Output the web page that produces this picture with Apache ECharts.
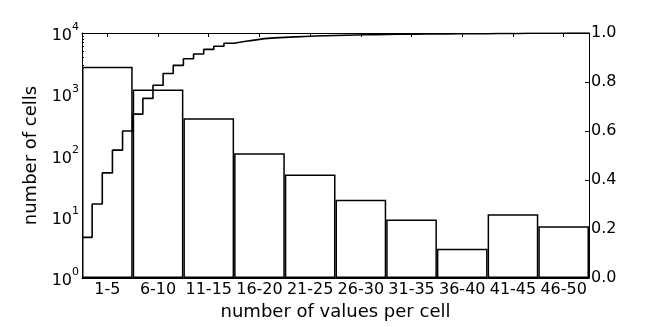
<!DOCTYPE html>
<html>
<head>
<meta charset="utf-8">
<script src="https://cdn.jsdelivr.net/npm/echarts@6/dist/echarts.min.js"></script>
<style>
html,body{margin:0;padding:0;background:#fff;}
#chart{width:654px;height:327px;}
</style>
</head>
<body>
<div id="chart"></div>
<script>
// ---- data ----
var categories = ['1-5','6-10','11-15','16-20','21-25','26-30','31-35','36-40','41-45','46-50'];
var cellCounts = [2800, 1200, 405, 109, 49, 19, 9, 3, 11, 7];
// cumulative fraction of cells, one per number of values (1..50)
var cumFraction = [
  0.166,0.302,0.429,0.522,0.600, 0.669,0.733,0.787,0.835,0.868,
  0.895,0.914,0.933,0.946,0.958, 0.965,0.971,0.977,0.980,0.982,
  0.984,0.986,0.988,0.989,0.990, 0.991,0.992,0.993,0.993,0.994,
  0.995,0.995,0.995,0.996,0.996, 0.996,0.997,0.997,0.997,0.997,
  0.998,0.998,0.998,0.999,0.999, 0.999,0.999,1.000,1.000,1.000
];
var rightTicks = [0.0,0.2,0.4,0.6,0.8,1.0];

// ---- build ----
var stepData = cumFraction.map(function(v,i){ return [i, v]; });
stepData.push([cumFraction.length, cumFraction[cumFraction.length-1]]);

var minorLog = [];
for (var n = 0; n < 4; n++) {
  for (var k = 2; k <= 9; k++) minorLog.push(Math.log10(k * Math.pow(10, n)));
}

var FONT = 'DejaVu Sans';
var chart = echarts.init(document.getElementById('chart'), null, {renderer:'canvas'});
var axisLineStyle = {color:'#000', width:1};

chart.setOption({
  animation: false,
  backgroundColor: '#fff',
  textStyle: {fontFamily: FONT, color: '#000'},
  grid: {left: 82, right: 65, top: 33, bottom: 49, containLabel: false, outerBoundsMode: 'none'},
  xAxis: [
    {
      type: 'category', data: categories, position: 'bottom', boundaryGap: true,
      axisLine: {show: true, lineStyle: axisLineStyle},
      axisTick: {show: true, inside: true, alignWithLabel: true, length: 4, lineStyle: {color:'#000'}},
      axisLabel: {fontFamily: FONT, fontSize: 16, color: '#000', margin: 4, interval: 0},
      splitLine: {show: false},
      name: 'number of values per cell', nameLocation: 'middle', nameGap: 21,
      nameTextStyle: {fontFamily: FONT, fontSize: 18, color: '#000', verticalAlign: 'top'}
    },
    {
      type: 'category', data: categories, position: 'top', boundaryGap: true,
      axisLine: {show: true, onZero: false, lineStyle: axisLineStyle},
      axisTick: {show: true, inside: true, alignWithLabel: true, length: 4, lineStyle: {color:'#000'}},
      axisLabel: {show: false}, splitLine: {show: false}
    },
    {
      type: 'value', min: 0, max: cumFraction.length, show: false
    }
  ],
  yAxis: [
    {
      type: 'log', logBase: 10, min: 1, max: 10000, position: 'left',
      axisLine: {show: true, onZero: false, lineStyle: axisLineStyle},
      axisTick: {show: true, inside: true, length: 4, lineStyle: {color:'#000'}},
      splitLine: {show: false},
      axisLabel: {
        margin: 3,
        formatter: function(v){ return '{b|10}{s|' + Math.round(Math.log10(v)) + '}'; },
        rich: {
          b: {fontFamily: FONT, fontSize: 16, color:'#000', lineHeight: 22, verticalAlign: 'bottom'},
          s: {fontFamily: FONT, fontSize: 11, color:'#000', lineHeight: 22, verticalAlign: 'top'}
        }
      },
      name: 'number of cells', nameLocation: 'middle', nameGap: 29, nameRotate: 90,
      nameTextStyle: {fontFamily: FONT, fontSize: 18, color: '#000'}
    },
    {
      type: 'value', min: 0, max: 1, interval: 0.2, position: 'right',
      axisLine: {show: true, onZero: false, lineStyle: axisLineStyle},
      axisTick: {show: true, inside: true, length: 4, lineStyle: {color:'#000'}},
      axisLabel: {fontFamily: FONT, fontSize: 16, color:'#000', margin: 2,
        customValues: rightTicks,
        formatter: function(v){ return v.toFixed(1); }},
      splitLine: {show: false}
    },
    {
      type: 'value', min: 0, max: 4, position: 'left', show: true,
      axisLine: {show: false},
      axisTick: {show: true, inside: true, length: 2, customValues: minorLog, lineStyle: {color:'#000'}},
      axisLabel: {show: false}, splitLine: {show: false}
    }
  ],
  series: [
    {
      type: 'bar', xAxisIndex: 0, yAxisIndex: 0, data: cellCounts,
      barCategoryGap: '0%', barGap: '0%',
      itemStyle: {color: '#fff', borderColor: '#000', borderWidth: 1.5},
      z: 2, silent: true
    },
    {
      type: 'line', xAxisIndex: 2, yAxisIndex: 1, data: stepData, step: 'end',
      symbol: 'none', lineStyle: {color: '#000', width: 1.6}, z: 3, silent: true
    }
  ]
});
</script>
</body>
</html>
